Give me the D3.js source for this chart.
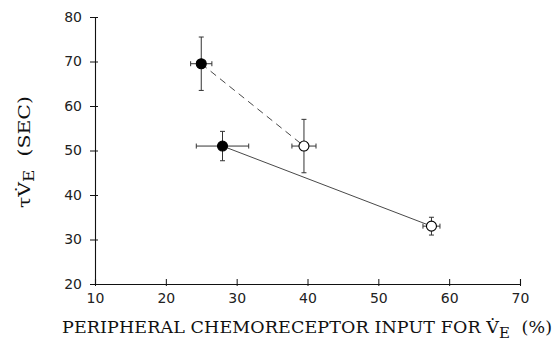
<!DOCTYPE html>
<html><head><meta charset="utf-8">
<script src="https://cdn.jsdelivr.net/npm/d3@7"></script>
<style>body{margin:0;background:#fff}svg{display:block}</style>
</head><body>
<script>
const xTicks = [10,20,30,40,50,60,70];
const yTicks = [20,30,40,50,60,70,80];
// points: x, y, xErr, yErr, filled
const ptX   = [25, 28, 39.5, 57.5];
const ptY   = [69.5, 51, 51, 33];
const ptXe  = [1.5, 3.7, 1.7, 1.2];
const ptYe  = [6, 3.3, 6, 2];
const ptFilled = [true, true, false, false];
// line segments (index pairs)
const dashedPair = [0, 2];
const solidPair = [1, 3];

const W = 556, H = 344;
const svg = d3.select("body").append("svg").attr("width", W).attr("height", H);
const x = d3.scaleLinear().domain([10,70]).range([95,520]);
const y = d3.scaleLinear().domain([20,80]).range([284,17]);
const tickFont = "DejaVu Sans";
const titleFont = "DejaVu Serif";

const xAxis = svg.append("g").attr("transform","translate(0,284)")
  .call(d3.axisBottom(x).tickValues(xTicks).tickSize(-5).tickPadding(9));
const yAxis = svg.append("g").attr("transform","translate(95,0)")
  .call(d3.axisLeft(y).tickValues(yTicks).tickSize(5).tickPadding(8));
[xAxis,yAxis].forEach(a=>{
  a.select(".domain").attr("stroke","#111").attr("stroke-width",1.1);
  a.selectAll(".tick line").attr("stroke","#111");
  a.selectAll("text").attr("font-family",tickFont).attr("font-size",14).attr("fill","#222");
});
// crossing parts of ticks
xAxis.selectAll(".tick").append("line").attr("y1",0).attr("y2",2).attr("stroke","#111");
yAxis.selectAll(".tick").append("line").attr("x1",0).attr("x2",3).attr("stroke","#111");

const pts = ptX.map((v,i)=>({x:v,y:ptY[i],xe:ptXe[i],ye:ptYe[i],f:ptFilled[i]}));

function seg(pair, dash){
  const a = pts[pair[0]], b = pts[pair[1]];
  svg.append("line").attr("x1",x(a.x)).attr("y1",y(a.y)).attr("x2",x(b.x)).attr("y2",y(b.y))
    .attr("stroke","#333").attr("stroke-width",0.9).attr("stroke-dasharray",dash);
}
seg(dashedPair,"7,5");
seg(solidPair,null);

const g = svg.append("g").attr("stroke","#333").attr("stroke-width",1);
pts.forEach(p=>{
  const cx=x(p.x), cy=y(p.y);
  g.append("line").attr("x1",x(p.x-p.xe)).attr("x2",x(p.x+p.xe)).attr("y1",cy).attr("y2",cy);
  g.append("line").attr("y1",y(p.y-p.ye)).attr("y2",y(p.y+p.ye)).attr("x1",cx).attr("x2",cx);
  [p.x-p.xe,p.x+p.xe].forEach(v=>g.append("line").attr("x1",x(v)).attr("x2",x(v)).attr("y1",cy-2.5).attr("y2",cy+2.5));
  [p.y-p.ye,p.y+p.ye].forEach(v=>g.append("line").attr("y1",y(v)).attr("y2",y(v)).attr("x1",cx-2.5).attr("x2",cx+2.5));
  g.append("circle").attr("cx",cx).attr("cy",cy).attr("r",5)
    .attr("fill",p.f?"#000":"#fff").attr("stroke","#000").attr("stroke-width",1.1);
});

// x title
const xt = svg.append("text").attr("x",62).attr("y",333)
  .attr("font-family",titleFont).attr("font-size",17.5).attr("fill","#111")
  .attr("textLength",490).attr("lengthAdjust","spacing");
xt.append("tspan").text("PERIPHERAL CHEMORECEPTOR INPUT FOR V\u0307");
xt.append("tspan").attr("baseline-shift","-30%").attr("font-size",15).text("E");
xt.append("tspan").text("\u00a0 (%)");

// y title
const yt = svg.append("text").attr("transform","translate(30,152) rotate(-90)")
  .attr("text-anchor","middle").attr("font-family",titleFont).attr("font-size",17).attr("fill","#111")
  .attr("textLength",112).attr("lengthAdjust","spacingAndGlyphs");
yt.append("tspan").text("\u03c4V\u0307");
yt.append("tspan").attr("baseline-shift","-30%").attr("font-size",14).text("E");
yt.append("tspan").text("\u00a0 (SEC)");
</script>
</body></html>
